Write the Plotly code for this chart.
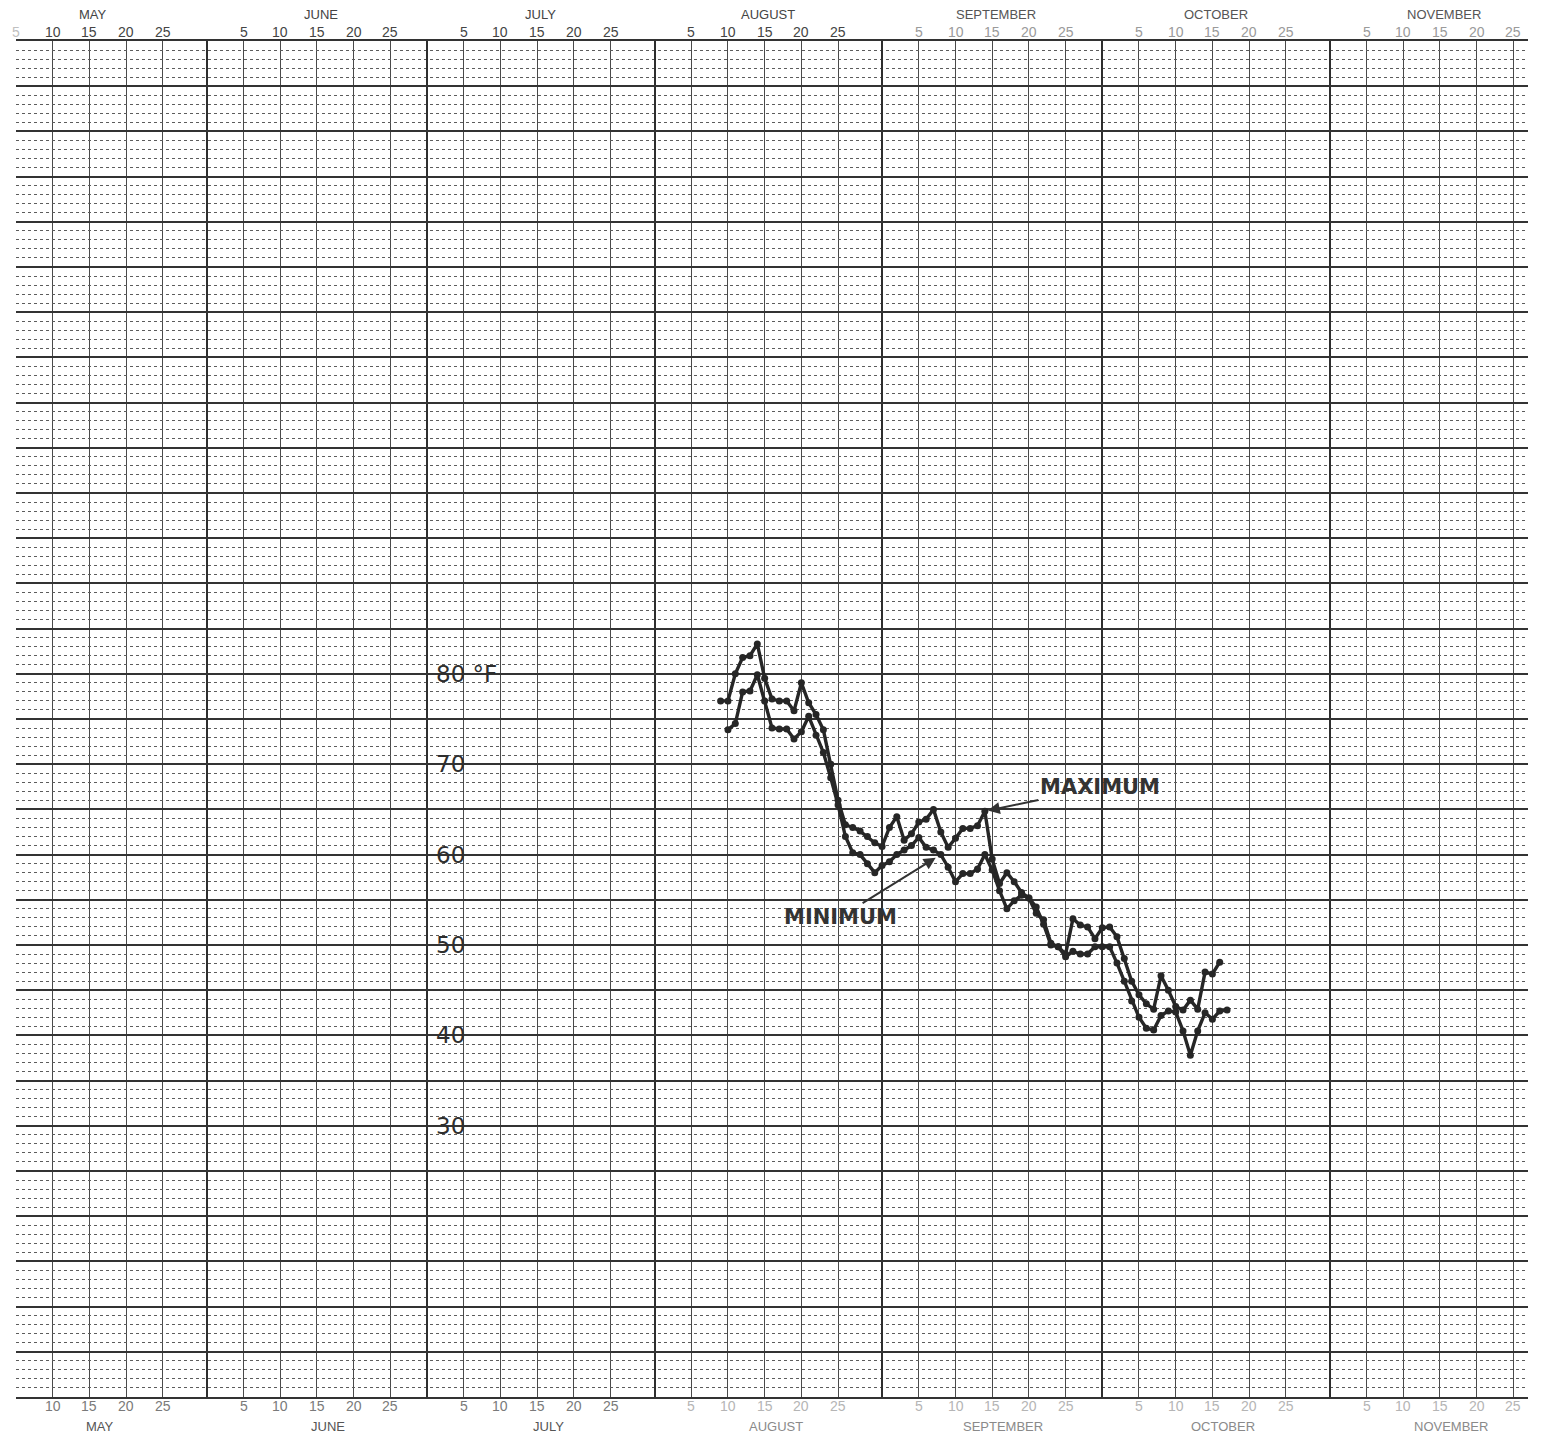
import plotly.graph_objects as go

# ---------------- data ----------------
MONTH_NAMES = ["MAY", "JUNE", "JULY", "AUGUST", "SEPTEMBER", "OCTOBER", "NOVEMBER"]
MONTH_DAYS = [31, 30, 31, 31, 30, 31, 30]
DAY_TICKS = [5, 10, 15, 20, 25]
TEMP_LABELS = [30, 40, 50, 60, 70, 80]

# Daily maximum temperature (°F), starting August 9
MAX_START = ("AUGUST", 9)
MAX_TEMP = [
    77.0, 77.0, 80.0, 81.8, 82.0, 83.3, 79.5, 77.2, 77.0, 77.0, 75.9, 79.0,
    76.8, 75.5, 73.8, 70.0, 66.0, 63.3, 63.0, 62.6, 62.0, 61.3, 60.9,
    63.0, 64.2, 61.6, 62.3, 63.6, 63.9, 65.0, 62.5, 60.8, 61.8, 62.9, 62.9,
    63.2, 64.8, 59.5, 56.8, 58.0, 57.0, 55.8, 55.2, 53.5, 52.8, 50.2, 49.8,
    49.0, 52.9, 52.2, 52.0, 50.7, 51.9,
    52.0, 50.9, 48.5, 46.0, 44.5, 43.5, 42.9, 46.6, 45.0, 43.2, 42.8, 43.9,
    42.9, 47.0, 46.8, 48.1,
]

# Daily minimum temperature (°F), starting August 10
MIN_START = ("AUGUST", 10)
MIN_TEMP = [
    73.8, 74.5, 78.0, 78.1, 79.9, 77.0, 74.0, 73.9, 73.9, 72.8, 73.6, 75.3,
    73.2, 71.3, 68.5, 65.5, 62.0, 60.2, 60.0, 59.0, 58.0, 58.8,
    59.2, 60.0, 60.5, 61.0, 61.9, 60.8, 60.5, 60.0, 58.6, 57.0, 57.9, 57.9,
    58.4, 60.0, 58.3, 56.0, 54.0, 54.9, 55.5, 55.2, 54.2, 52.3, 50.0, 49.8,
    48.7, 49.3, 49.0, 49.0, 49.8, 49.8,
    49.8, 48.0, 46.0, 43.8, 42.0, 40.8, 40.6, 42.2, 42.7, 42.6, 40.5, 37.8,
    40.5, 42.5, 41.8, 42.7, 42.8,
]

# ---------------- helpers ----------------
month_start = {}
acc = 0
for name, nd in zip(MONTH_NAMES, MONTH_DAYS):
    month_start[name] = acc
    acc += nd


def season_day(month, day):
    return month_start[month] + day


x_max = [season_day(*MAX_START) + i for i in range(len(MAX_TEMP))]
x_min = [season_day(*MIN_START) + i for i in range(len(MIN_TEMP))]

boundaries = [month_start[m] for m in MONTH_NAMES[1:]]
five_day = [month_start[m] + d for m in MONTH_NAMES for d in DAY_TICKS]

X_RANGE = [5, 211]
Y_RANGE = [0, 150]

fig = go.Figure()

line_color = "#262626"
for xs, ys, nm in ((x_max, MAX_TEMP, "Maximum"), (x_min, MIN_TEMP, "Minimum")):
    fig.add_trace(go.Scatter(
        x=xs, y=ys, mode="lines+markers", name=nm,
        line=dict(color=line_color, width=3.4), marker=dict(size=7, color=line_color),
        showlegend=False, hoverinfo="skip"))

annotations = []
label_font = "Liberation Sans, Arial, sans-serif"

# month and day labels top and bottom
for i, m in enumerate(MONTH_NAMES):
    s = month_start[m]
    late = i >= 4
    top_day_color = "#9a9a9a" if late else "#444444"
    top_month_color = "#555555" if late else "#444444"
    bot_late = i >= 3
    bot_day_color = "#b5b5b5" if bot_late else "#7a7a7a"
    bot_month_color = "#8a8a8a" if bot_late else "#555555"
    annotations.append(dict(x=s + 15.5, y=1.0192, xref="x", yref="paper", text=m,
                            yanchor="middle", showarrow=False,
                            font=dict(family=label_font, size=13, color=top_month_color)))
    annotations.append(dict(x=s + 16.5, y=-0.0214, xref="x", yref="paper", text=m,
                            yanchor="middle", showarrow=False,
                            font=dict(family=label_font, size=13, color=bot_month_color)))
    for d in DAY_TICKS:
        xv = s + d
        if xv < X_RANGE[0] - 0.5 or xv > X_RANGE[1]:
            continue
        c_top = "#c0c0c0" if (m == "MAY" and d == 5) else top_day_color
        annotations.append(dict(x=xv, y=1.0066, xref="x", yref="paper", text=str(d),
                                yanchor="middle", showarrow=False,
                                font=dict(family=label_font, size=14, color=c_top)))
        if not (m == "MAY" and d == 5):
            annotations.append(dict(x=xv, y=-0.0066, xref="x", yref="paper", text=str(d),
                                    yanchor="middle", showarrow=False,
                                    font=dict(family=label_font, size=14, color=bot_day_color)))

# temperature labels
for t in TEMP_LABELS:
    txt = f"{t} °F" if t == max(TEMP_LABELS) else str(t)
    annotations.append(dict(x=month_start["JULY"] + 0.9, y=t, xref="x", yref="y", text=txt,
                            xanchor="left", yanchor="middle", showarrow=False,
                            font=dict(family="DejaVu Sans, sans-serif", size=23, color="#2e2e2e")))

# MAXIMUM / MINIMUM call-outs pointing at the data
peak_i = MAX_TEMP.index(max(MAX_TEMP[30:40]))
annotations.append(dict(x=x_max[peak_i], y=MAX_TEMP[peak_i], xref="x", yref="y",
                        text="<b>MAXIMUM</b>", showarrow=True, arrowhead=2, arrowsize=1.2,
                        arrowwidth=2, arrowcolor="#333333", ax=115, ay=-24, standoff=3,
                        font=dict(family="DejaVu Sans, sans-serif", size=21, color="#333333")))
min_i = x_min.index(season_day("SEPTEMBER", 8))
annotations.append(dict(x=x_min[min_i], y=MIN_TEMP[min_i], xref="x", yref="y",
                        text="<b>MINIMUM</b>", showarrow=True, arrowhead=2, arrowsize=1.2,
                        arrowwidth=2, arrowcolor="#333333", ax=-100, ay=62, standoff=6,
                        font=dict(family="DejaVu Sans, sans-serif", size=21, color="#333333")))

fig.update_layout(
    width=1536, height=1429,
    margin=dict(l=8, r=16, t=33, b=40),
    paper_bgcolor="white", plot_bgcolor="white",
    annotations=annotations,
    xaxis=dict(
        range=X_RANGE, showticklabels=False, ticks="", zeroline=False,
        tickmode="array", tickvals=boundaries,
        showgrid=True, gridcolor="#2e2e2e", gridwidth=2,
        minor=dict(tickmode="array", tickvals=five_day, showgrid=True,
                   gridcolor="#4a4a4a", gridwidth=1.2),
        showline=True, mirror=True, linecolor="#333333", linewidth=2,
    ),
    yaxis=dict(
        range=Y_RANGE, showticklabels=False, ticks="", zeroline=False,
        tick0=0, dtick=5, showgrid=True, gridcolor="#333333", gridwidth=1.7,
        minor=dict(tick0=0, dtick=1, showgrid=True, gridcolor="#5c5c5c",
                   gridwidth=1, griddash="dot"),
        showline=False,
    ),
)

fig.write_html("out.html")
